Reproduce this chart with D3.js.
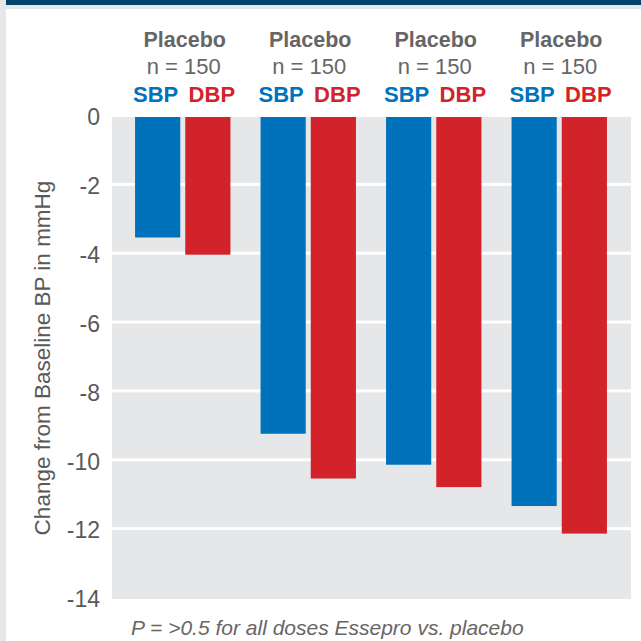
<!DOCTYPE html>
<html>
<head>
<meta charset="utf-8">
<script src="https://cdn.jsdelivr.net/npm/d3@7"></script>
<style>
html,body{margin:0;padding:0;background:#fff;}
svg{display:block;font-family:"Liberation Sans",Arial,Helvetica,sans-serif;}
</style>
</head>
<body>
<svg id="chart" width="641" height="641"></svg>
<script>
const groups = ["G1","G2","G3","G4"];
const groupTitles = ["Placebo","Placebo","Placebo","Placebo"];
const groupN = ["n = 150","n = 150","n = 150","n = 150"];
const series = ["SBP","DBP"];
const sbpValues = [-3.5, -9.2, -10.1, -11.3];
const dbpValues = [-4.0, -10.5, -10.75, -12.1];
const yTicks = [0,-2,-4,-6,-8,-10,-12,-14];
const yTitle = "Change from Baseline BP in mmHg";
const footnote = "P = >0.5 for all doses Essepro vs. placebo";
const colors = {SBP:"#0072bc", DBP:"#d2232a"};

const svg = d3.select("#chart");
const W = 641, H = 641;
const plot = {left:112, right:631, top:117, bottom:599};

// frame decorations
svg.append("rect").attr("x",0).attr("y",0).attr("width",6).attr("height",H).attr("fill","#e6e7e8");
svg.append("rect").attr("x",6).attr("y",5).attr("width",W-6).attr("height",4).attr("fill","#e6e7e8");
svg.append("rect").attr("x",6).attr("y",0).attr("width",W-6).attr("height",5).attr("fill","#00456c");

const y = d3.scaleLinear().domain([0,-14]).range([plot.top, plot.bottom]);
const x0 = d3.scaleBand().domain(groups).range([120,622]).paddingInner(0.24).paddingOuter(0.12);
const x1 = d3.scaleBand().domain(series).range([0, x0.bandwidth()]).paddingInner(0.1);

// plot background bands separated by white gridlines
const bands = d3.pairs(yTicks);
svg.append("g").selectAll("rect").data(bands).join("rect")
  .attr("x", plot.left)
  .attr("width", plot.right - plot.left)
  .attr("y", d => y(d[0]))
  .attr("height", d => y(d[1]) - y(d[0]) - (d[1] === -14 ? 0 : 3))
  .attr("fill", "#e6e7e8");

// y axis labels
const yAxis = d3.axisLeft(y).tickValues(yTicks).tickSize(0).tickPadding(0).tickFormat(d => d3.format("d")(d).replace("−","-"));
const ga = svg.append("g").attr("transform", `translate(100,0)`).call(yAxis);
ga.select(".domain").remove();
ga.selectAll("text").attr("font-size", 23).attr("fill", "#58595b")
  .attr("font-family", "Liberation Sans, Arial, sans-serif").attr("dy","0.34em");

// y title
svg.append("text")
  .attr("transform", `translate(50,${(plot.top+plot.bottom)/2 + 0}) rotate(-90)`)
  .attr("text-anchor","middle")
  .attr("font-size", 22.5).attr("fill", "#58595b")
  .text(yTitle);

// bars
const data = groups.map((g,i) => ({g, values:[{s:"SBP", v:sbpValues[i]},{s:"DBP", v:dbpValues[i]}]}));
const gg = svg.append("g").selectAll("g").data(data).join("g")
  .attr("transform", d => `translate(${x0(d.g)},0)`);
gg.selectAll("rect").data(d => d.values).join("rect")
  .attr("x", d => x1(d.s))
  .attr("width", x1.bandwidth())
  .attr("y", y(0))
  .attr("height", d => y(d.v) - y(0))
  .attr("fill", d => colors[d.s]);

// header labels
const hdr = svg.append("g").selectAll("g").data(groups).join("g");
hdr.append("text")
  .attr("x", d => x0(d) + x0.bandwidth()/2 + 2)
  .attr("y", 47).attr("text-anchor","middle")
  .attr("font-size", 21.5).attr("font-weight","bold").attr("fill","#666666")
  .text((d,i) => groupTitles[i]);
hdr.append("text")
  .attr("x", d => x0(d) + x0.bandwidth()/2 + 1)
  .attr("y", 74).attr("text-anchor","middle")
  .attr("font-size", 22).attr("fill","#666666")
  .text((d,i) => groupN[i]);
series.forEach(s => {
  hdr.append("text")
    .attr("x", d => x0(d) + x1(s) + x1.bandwidth()/2 + (s === "SBP" ? -2 : 4))
    .attr("y", 102).attr("text-anchor","middle")
    .attr("font-size", 22).attr("font-weight","bold").attr("fill", colors[s])
    .text(s);
});

// footnote
svg.append("text")
  .attr("x", 131).attr("y", 635)
  .attr("font-size", 21).attr("font-style","italic").attr("fill","#666666")
  .text(footnote);
</script>
</body>
</html>
